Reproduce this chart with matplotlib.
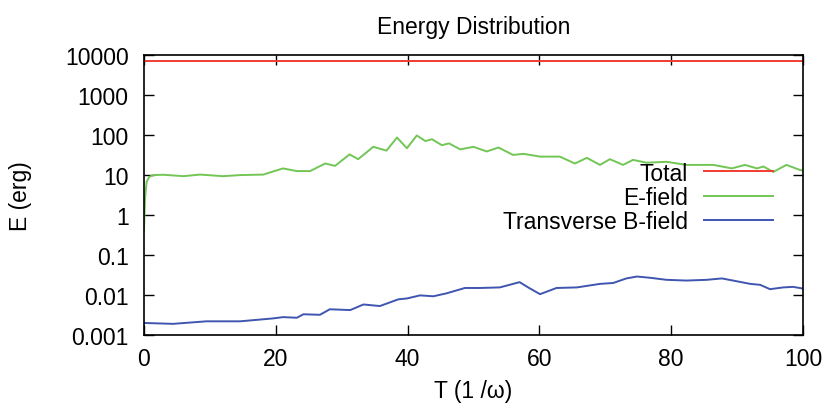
import numpy as np
import matplotlib
matplotlib.use("Agg")
import matplotlib.pyplot as plt
from matplotlib.ticker import LogLocator, FixedLocator, NullFormatter

# Data
total_t = [0, 100]
total_e = [7300, 7300]

efield_t = [0.0, 0.15, 0.4, 0.8, 1.4, 2.9, 6.0, 8.5, 12.0, 14.6, 18.1, 21.1, 23.2,
            25.2, 27.5, 29.0, 31.2, 32.5, 34.8, 36.8, 38.4, 39.9, 41.4, 42.7,
            43.7, 45.2, 46.3, 48.0, 50.0, 52.0, 53.8, 56.0, 57.6, 60.1, 63.1,
            65.4, 67.2, 69.2, 70.7, 72.7, 74.2, 76.3, 79.3, 82.3, 86.4, 89.2,
            91.2, 93.0, 94.0, 95.5, 97.5, 99.5, 100.0]
efield_e = [0.4, 2.5, 6.8, 9.0, 10.0, 10.2, 9.4, 10.3, 9.4, 10.0, 10.3, 14.7, 12.6,
            12.6, 19.5, 17.0, 33.0, 25.0, 51.0, 41.0, 87.0, 47.0, 98.0, 71.0,
            79.0, 56.0, 62.0, 44.0, 51.0, 39.0, 49.0, 32.0, 34.0, 29.0, 29.0,
            19.5, 27.0, 18.0, 25.0, 18.0, 24.0, 20.4, 21.5, 18.0, 18.0, 14.7,
            18.0, 14.7, 16.4, 12.0, 18.0, 13.5, 13.0]

bfield_t = [0.0, 4.4, 9.5, 14.6, 19.6, 21.1, 23.2, 24.2, 26.7, 28.2, 31.3, 33.3,
            35.8, 38.6, 39.9, 41.9, 43.9, 45.9, 48.7, 51.0, 54.0, 57.0, 58.3,
            60.1, 62.6, 65.7, 69.2, 71.2, 73.2, 74.8, 76.8, 79.3, 82.3, 85.4,
            87.7, 89.4, 92.0, 93.5, 95.0, 97.0, 98.5, 100.0]
bfield_e = [0.0020, 0.0019, 0.0022, 0.0022, 0.0026, 0.0028, 0.0027, 0.0033, 0.0032,
            0.0044, 0.0042, 0.0058, 0.0053, 0.0078, 0.0082, 0.0098, 0.0093, 0.011,
            0.015, 0.015, 0.0155, 0.021, 0.0155, 0.0105, 0.015, 0.0155, 0.019,
            0.020, 0.026, 0.029, 0.027, 0.024, 0.023, 0.024, 0.026, 0.023, 0.019,
            0.018, 0.014, 0.0155, 0.016, 0.0145]

plt.rcParams['font.family'] = ['Liberation Sans', 'DejaVu Sans']
plt.rcParams['font.size'] = 16.5

fig = plt.figure(figsize=(8.26, 4.10), dpi=100)
ax = fig.add_axes([0.1743, 0.1805, 0.7978, 0.6825])

ax.plot(total_t, total_e, color='#f03c32', lw=1.4, label='Total')
ax.plot(efield_t, efield_e, color='#72c655', lw=1.4, label='E-field')
ax.plot(bfield_t, bfield_e, color='#3f55b0', lw=1.4, label='Transverse B-field')

ax.set_yscale('log')
ax.set_xlim(0, 100)
ax.set_ylim(0.001, 10000)
ax.set_xticks([0, 20, 40, 60, 80, 100])
ax.yaxis.set_major_locator(FixedLocator([0.001, 0.01, 0.1, 1, 10, 100, 1000, 10000]))
ax.set_yticklabels(['0.001', '0.01', '0.1', '1', '10', '100', '1000', '10000'])
ax.yaxis.set_minor_locator(LogLocator(base=10, subs=[2, 5, 8]))
ax.yaxis.set_minor_formatter(NullFormatter())

ax.tick_params(which='both', direction='in', top=True, right=True, width=1.0, colors='black')
ax.tick_params(which='major', length=7)
ax.tick_params(which='minor', length=3.5)
ax.tick_params(axis='x', pad=9)
ax.tick_params(axis='y', pad=11)
for s in ax.spines.values():
    s.set_linewidth(1.2)

ax.set_title('Energy Distribution', fontsize=16.5, pad=16)
ax.set_xlabel('T (1 /\u03c9)', labelpad=6)
ax.set_ylabel('E (erg)', labelpad=24)

ax.legend(loc='upper right', bbox_to_anchor=(0.954, 0.62), frameon=False,
          markerfirst=False, handlelength=3.0, handletextpad=0.7,
          labelspacing=0.05, borderpad=0, borderaxespad=0)

fig.savefig('out.png', dpi=100)
